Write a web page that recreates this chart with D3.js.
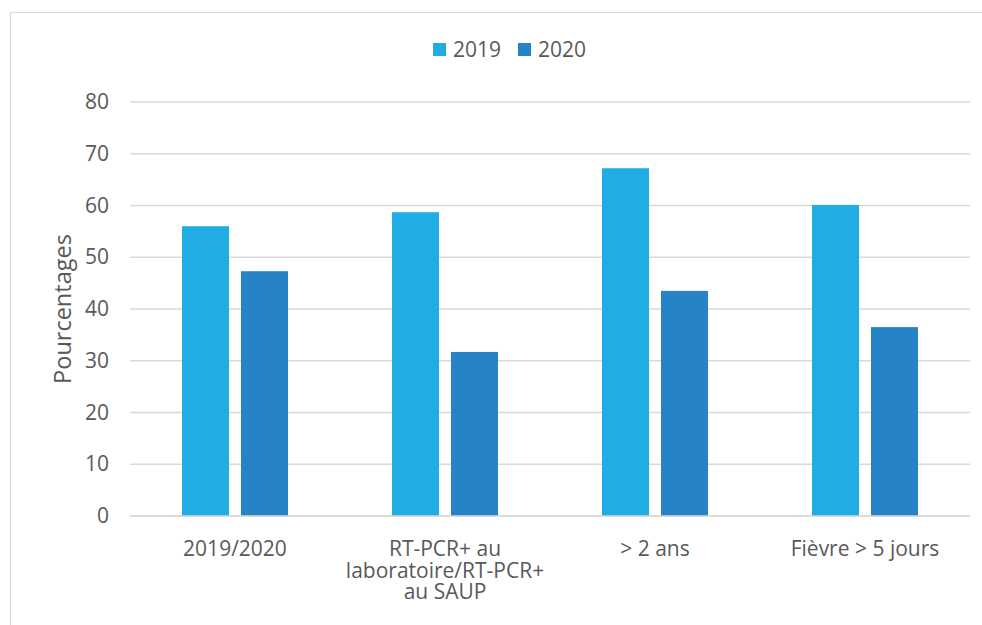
<!DOCTYPE html>
<html lang="fr">
<head>
    <meta charset="UTF-8">
    <title>Pourcentages 2019 / 2020</title>
    <script src="https://d3js.org/d3.v7.min.js"></script>
    <style>
        body { margin: 0; background-color: white; overflow: hidden; }
        text { font-family: "Open Sans", sans-serif; fill: #595959; }
    </style>
</head>
<body>
    <svg id="chart"></svg>

    <script>
        const width = 982;
        const height = 625;

        // Data
        const categories = [
            ["2019/2020"],
            ["RT-PCR+ au", "laboratoire/RT-PCR+", "au SAUP"],
            ["> 2 ans"],
            ["Fièvre > 5 jours"]
        ];
        const seriesNames = ["2019", "2020"];
        const values2019 = [56.0, 58.7, 67.2, 60.1];
        const values2020 = [47.3, 31.7, 43.5, 36.5];
        const yTicks = [0, 10, 20, 30, 40, 50, 60, 70, 80];
        const colors = ["#1FADE4", "#2683C6"];

        const plot = { left: 130, right: 970, top: 102, bottom: 516 };

        const svg = d3.select("#chart")
            .attr("width", width)
            .attr("height", height);

        // Outer frame
        svg.append("rect")
            .attr("x", 10.5).attr("y", 12.5)
            .attr("width", 1000).attr("height", 700)
            .attr("fill", "none")
            .attr("stroke", "#d9d9d9");

        const x0 = d3.scaleBand()
            .domain(d3.range(categories.length))
            .range([plot.left, plot.right]);

        const x1 = d3.scaleBand()
            .domain(seriesNames)
            .range([52, 158])
            .paddingInner(0.2034);

        const y = d3.scaleLinear()
            .domain([0, 80])
            .range([plot.bottom, plot.top]);

        // Gridlines
        svg.append("g")
            .selectAll("line")
            .data(yTicks)
            .enter()
            .append("line")
            .attr("x1", plot.left)
            .attr("x2", plot.right)
            .attr("y1", d => y(d))
            .attr("y2", d => y(d))
            .attr("stroke", "#d9d9d9")
            .attr("stroke-width", 1.5);

        // Y tick labels
        const yAxis = svg.append("g")
            .attr("transform", `translate(${plot.left - 21},0)`)
            .call(d3.axisLeft(y).tickValues(yTicks).tickSize(0).tickPadding(0));
        yAxis.select(".domain").remove();
        yAxis.selectAll("text")
            .style("font-size", "21px")
            .style("font-family", "'Open Sans', sans-serif")
            .attr("fill", "#595959");

        // Bars
        const series = [values2019, values2020];
        const groups = svg.append("g")
            .selectAll("g")
            .data(categories.map((c, i) => i))
            .enter()
            .append("g")
            .attr("transform", i => `translate(${x0(i)},0)`);

        groups.selectAll("rect")
            .data(i => seriesNames.map((s, k) => ({ s, k, v: series[k][i] })))
            .enter()
            .append("rect")
            .attr("x", d => x1(d.s))
            .attr("width", x1.bandwidth())
            .attr("y", d => y(d.v))
            .attr("height", d => y(0) - y(d.v))
            .attr("fill", d => colors[d.k]);

        // Baseline
        svg.append("line")
            .attr("x1", plot.left).attr("x2", plot.right)
            .attr("y1", y(0)).attr("y2", y(0))
            .attr("stroke", "#d9d9d9")
            .attr("stroke-width", 1.5);

        // X labels
        const xLabels = svg.append("g")
            .selectAll("text")
            .data(categories)
            .enter()
            .append("text")
            .attr("text-anchor", "middle")
            .attr("x", (d, i) => x0(i) + x0.bandwidth() / 2)
            .attr("y", 556)
            .style("font-size", "21px");
        xLabels.selectAll("tspan")
            .data(d => d)
            .enter()
            .append("tspan")
            .attr("x", function() { return d3.select(this.parentNode).attr("x"); })
            .attr("dy", (d, i) => i === 0 ? 0 : 21.5)
            .text(d => d);

        // Y axis title
        svg.append("text")
            .attr("transform", `translate(71,${(plot.top + plot.bottom) / 2}) rotate(-90)`)
            .attr("text-anchor", "middle")
            .style("font-size", "23.5px")
            .text("Pourcentages");

        // Legend
        const legendX = [433, 518];
        const legend = svg.append("g")
            .selectAll("g")
            .data(seriesNames)
            .enter()
            .append("g")
            .attr("transform", (d, i) => `translate(${legendX[i]},43)`);
        legend.append("rect")
            .attr("width", 13).attr("height", 13)
            .attr("fill", (d, i) => colors[i]);
        legend.append("text")
            .attr("x", 20)
            .attr("y", 14)
            .style("font-size", "21px")
            .text(d => d);
    </script>
</body>
</html>
